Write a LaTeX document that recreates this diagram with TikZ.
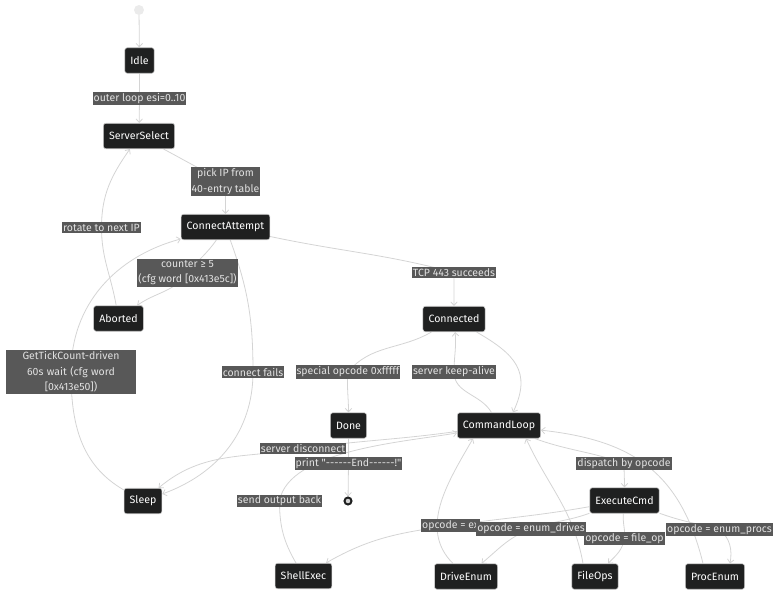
\documentclass[tikz,border=0pt]{standalone}
\usepackage{fontspec}
\setmainfont{Fira Sans}[Ligatures=TeXOff]
\usetikzlibrary{arrows.meta}
\definecolor{statefill}{HTML}{1F2020}
\definecolor{stateline}{HTML}{CCCCCC}
\definecolor{initfill}{HTML}{EBEBEB}
\definecolor{lblfill}{HTML}{585858}
\definecolor{lbltext}{HTML}{E2E2E2}
\definecolor{edgecol}{HTML}{D4D4D4}
\pgfdeclarelayer{bg}
\pgfsetlayers{bg,main}

\begin{document}
\begin{tikzpicture}[x=1pt,y=-1pt,
  stbox/.style={draw=stateline,fill=statefill,text=white,rounded corners=2.5pt,line width=0.6pt,
    minimum height=25.5pt,inner xsep=5.6pt,font=\fontsize{10.6}{13}\selectfont},
  elabel/.style={fill=lblfill,text=lbltext,inner xsep=1pt,inner ysep=1.4pt,align=center,
    font=\fontsize{10.5}{15.5}\selectfont},
  link/.style={draw=edgecol,line width=0.8pt,-{Straight Barb[length=3.5pt,width=6.5pt]}}]
\useasboundingbox (0,0) rectangle (784,602);

\node[circle,fill=initfill,inner sep=0pt,minimum size=10pt] (init) at (139,10) {};
\node[stbox] (idle) at (139.5,60.5) {Idle};
\node[stbox] (srv) at (139,136) {ServerSelect};
\node[stbox] (conn) at (225.5,227) {ConnectAttempt};
\node[stbox] (abrt) at (118.5,318.5) {Aborted};
\node[stbox] (cnd) at (454,319) {Connected};
\node[stbox] (done) at (348.5,425.5) {Done};
\node[stbox] (cmdl) at (499,425.5) {CommandLoop};
\node[stbox] (sleep) at (143,501) {Sleep};
\node[circle,draw=statefill,line width=2pt,fill=initfill!90!black,inner sep=0pt,minimum size=7pt] (fin) at (348,501) {};
\node[stbox] (exec) at (624.5,500.5) {ExecuteCmd};
\node[stbox] (shell) at (303.5,576) {ShellExec};
\node[stbox] (drive) at (466,576.5) {DriveEnum};
\node[stbox] (fops) at (595,576.5) {FileOps};
\node[stbox] (proc) at (715,576.5) {ProcEnum};

\node[elabel] (lOuter) at (139.5,98.5) {outer loop esi=0..10};
\node[elabel] (lPick) at (225.5,181.5) {pick IP from\\40-entry table};
\node[elabel] (lRotate) at (101.5,227.5) {rotate to next IP};
\node[elabel] (lCounter) at (187.5,272.8) {counter ≥ 5\\(cfg word [0x413e5c])};
\node[elabel] (lTcp) at (454,272.5) {TCP 443 succeeds};
\node[elabel,text width=128pt] (lWait) at (71,372) {GetTickCount-driven\\60s wait (cfg word\\{}[0x413e50])};
\node[elabel] (lFail) at (253,372) {connect fails};
\node[elabel] (lSpecial) at (348,372) {special opcode 0xfffff};
\node[elabel] (lKeep) at (454,372) {server keep-alive};
\node[elabel] (lDisc) at (303,448.5) {server disconnect};
\node[elabel] (lPrint) at (348.5,463.5) {print "------End------!"};
\node[elabel] (lSend) at (279.5,501) {send output back};
\node[elabel] (lDispatch) at (624,463.5) {dispatch by opcode};
\node[elabel,anchor=west] (lShell) at (421,525.5) {opcode = ex};
\node[elabel] (lDrives) at (531,529) {opcode = enum\_drives};
\node[elabel] (lFile) at (624.5,538.5) {opcode = file\_op};
\node[elabel] (lProcs) at (719.5,529.5) {opcode = enum\_procs};

\begin{pgfonlayer}{bg}
\draw[link] (init) -- (idle);
\draw[link] (idle) -- (lOuter.center) -- (srv);
\draw[link] (srv) to[out=-28,in=155] (lPick.center) to[out=-90,in=90] (conn);
\draw[link] (conn) to[out=-125,in=50] (lCounter.center) to[out=-125,in=35] (abrt);
\draw[link] (abrt) to[out=100,in=-90] (lRotate.center) to[out=90,in=-125] (srv);
\draw[link] (conn) to[out=-12,in=165] (lTcp.center) to[out=-90,in=90] (cnd);
\draw[link] (conn) to[out=-70,in=90] (lFail.center) to[out=-90,in=20] (sleep);
\draw[link] (sleep) to[out=150,in=-90] (lWait.center) to[out=90,in=195] (conn);
\draw[link] (cnd) to[out=-150,in=50] (lSpecial.center) to[out=-95,in=90] (done);
\draw[link] (cmdl) to[out=120,in=-90] (lKeep.center) to[out=90,in=-85] (cnd);
\draw[link] (cnd) to[out=-30,in=65,looseness=1.3] ([xshift=14pt]cmdl.north);
\draw[link] (cmdl) to[out=188,in=8] (lDisc.center) to[out=190,in=40] (sleep);
\draw[link] (done) -- (lPrint.center) -- (fin);
\draw[link] (shell) to[out=120,in=-90] (lSend.center) to[out=80,in=190,looseness=0.7] (cmdl);
\draw[link] (cmdl) to[out=-20,in=160] (lDispatch.center) to[out=-90,in=90] (exec);
\draw[link] (exec) to[out=190,in=8] (lShell.center) to[out=188,in=30] (shell);
\draw[link] (exec) to[out=200,in=20] (lDrives.center) to[out=200,in=40] (drive);
\draw[link] (exec) to[out=-95,in=85] (lFile.center) to[out=-100,in=45] (fops);
\draw[link] (exec) to[out=-20,in=165] (lProcs.center) to[out=-40,in=80] ([xshift=15pt]proc.north);
\draw[link] (drive) to[out=135,in=-120] ([xshift=-26pt]cmdl.south);
\draw[link] ([xshift=-12pt]fops.north) to[out=100,in=-65] ([xshift=27pt]cmdl.south);
\draw[link] ([xshift=-12pt]proc.north) .. controls (680,470) and (630,440) .. (cmdl);
\end{pgfonlayer}
\end{tikzpicture}
\end{document}
